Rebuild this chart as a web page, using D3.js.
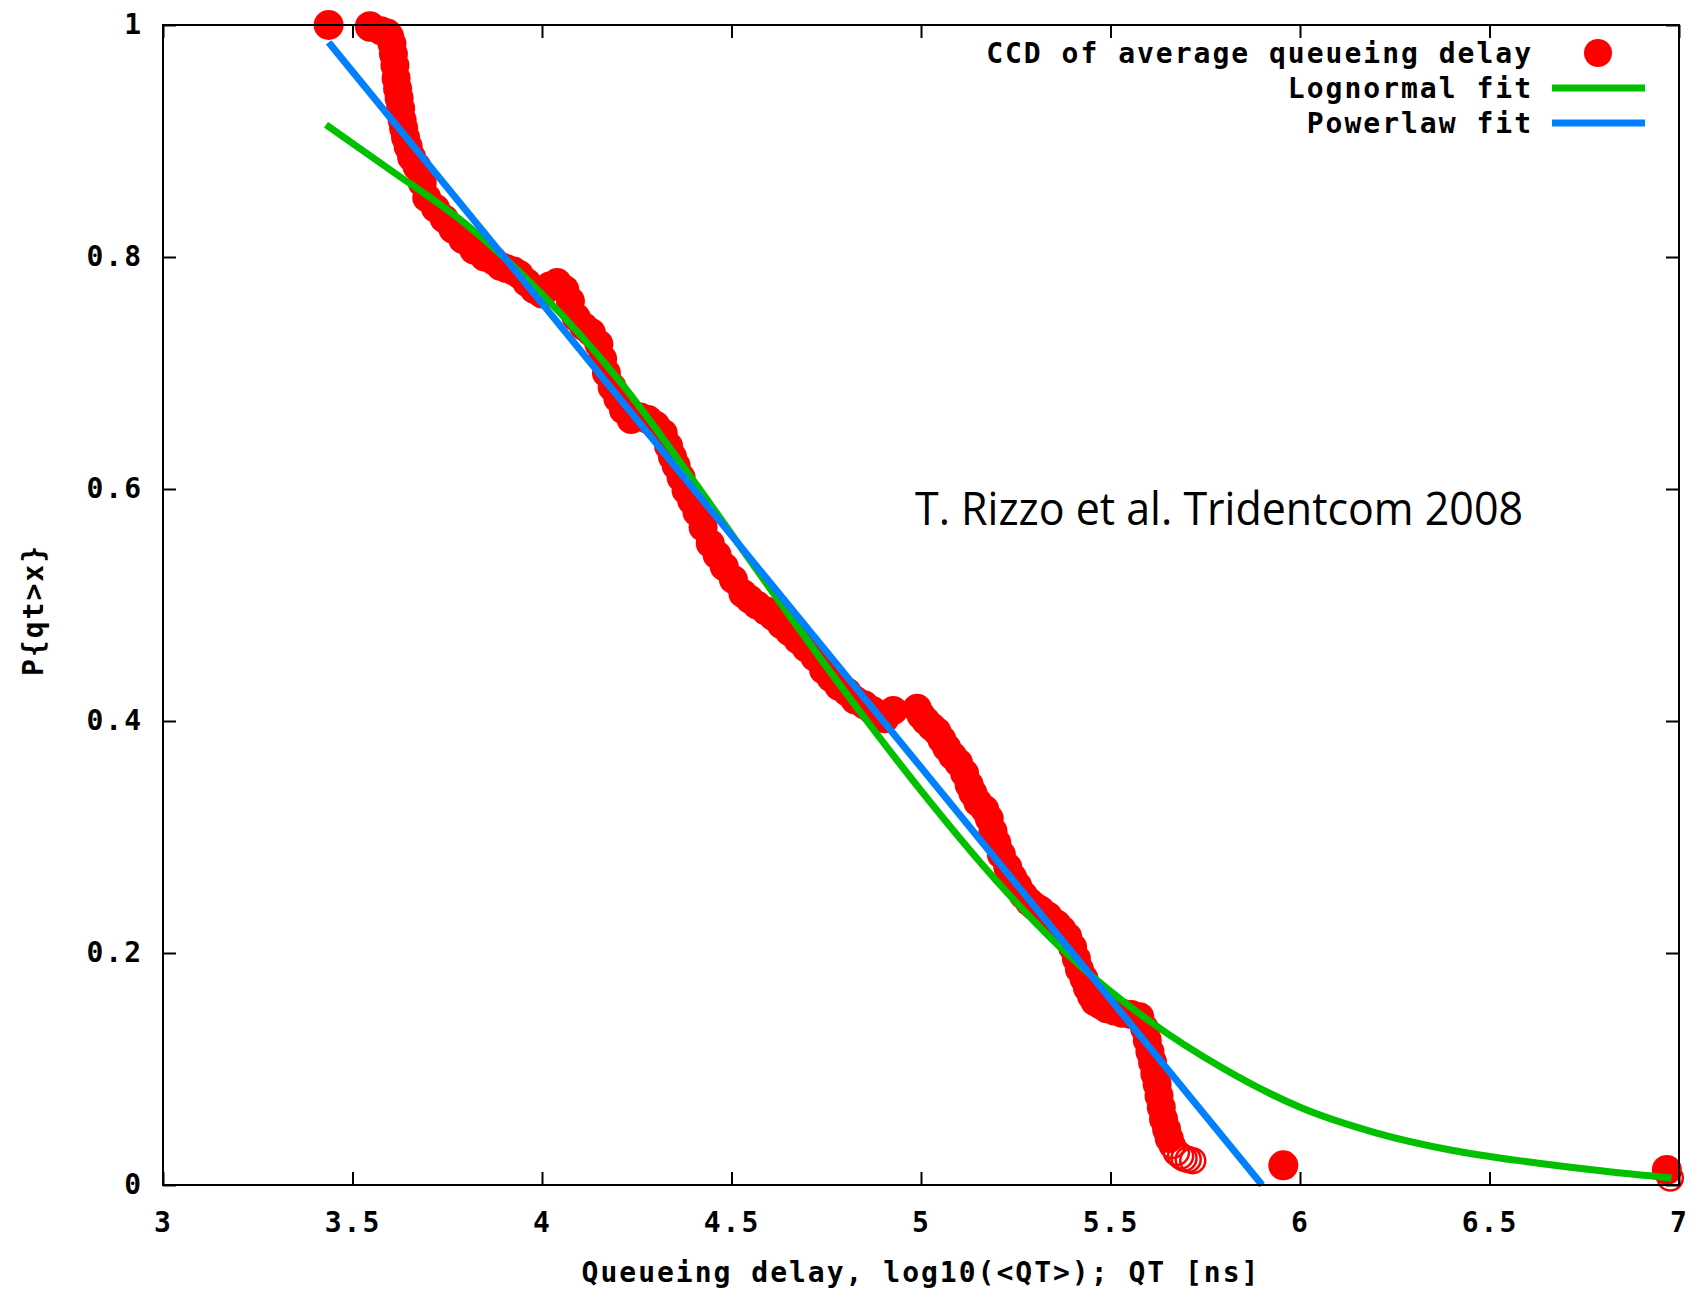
<!DOCTYPE html>
<html>
<head>
<meta charset="utf-8">
<script src="https://cdn.jsdelivr.net/npm/d3@7"></script>
<style>
  body { margin: 0; background: #fff; }
  .gp { font-family: "DejaVu Sans Mono", monospace; font-weight: bold; font-size: 28px; letter-spacing: 2px; fill: #000; }
</style>
</head>
<body>
<div id="wrapper"></div>
<script>
// CCD points (log10 of queueing delay, probability)
const ccdPoints = [
  [3.546,0.998],[3.575,0.995],[3.592,0.993],[3.598,0.990],[3.604,0.984],[3.608,0.975],[3.612,0.965],
  [3.615,0.954],[3.619,0.945],[3.623,0.937],[3.627,0.928],[3.631,0.918],[3.635,0.911],[3.640,0.903],
  [3.647,0.895],[3.656,0.886],[3.670,0.878],[3.684,0.864],[3.696,0.851],[3.719,0.842],[3.742,0.833],
  [3.765,0.824],[3.791,0.815],[3.820,0.806],[3.848,0.800],[3.871,0.797],[3.890,0.792],[3.906,0.790],
  [3.925,0.788],[3.940,0.785],[3.960,0.778],[3.980,0.772],[4.000,0.768],[4.020,0.775],[4.040,0.778],
  [4.060,0.772],[4.075,0.762],[4.090,0.748],[4.110,0.740],[4.130,0.735],[4.150,0.725],[4.160,0.712],
  [4.170,0.700],[4.185,0.688],[4.200,0.678],[4.215,0.668],[4.235,0.660],[4.260,0.662],[4.280,0.660],
  [4.300,0.655],[4.320,0.648],[4.334,0.637],
  [4.344,0.628],[4.354,0.620],[4.367,0.610],[4.380,0.599],[4.395,0.590],[4.409,0.580],[4.425,0.567],
  [4.444,0.553],[4.462,0.543],[4.481,0.533],[4.505,0.522],[4.530,0.510],[4.548,0.505],[4.567,0.500],
  [4.590,0.495],[4.610,0.490],[4.632,0.483],[4.653,0.477],[4.675,0.470],[4.697,0.463],[4.720,0.455],
  [4.743,0.444],[4.763,0.437],[4.783,0.430],[4.805,0.425],[4.826,0.418],[4.850,0.414],[4.872,0.409],
  [4.890,0.405],[4.904,0.402],[4.927,0.409],[4.990,0.411],[5.000,0.405],[5.013,0.400],[5.028,0.395],
  [5.042,0.391],[5.055,0.384],[5.068,0.377],[5.083,0.370],[5.099,0.364],[5.115,0.355],[5.127,0.345],
  [5.137,0.338],[5.150,0.330],[5.168,0.324],[5.180,0.316],[5.190,0.305],[5.200,0.295],[5.212,0.285],
  [5.229,0.274],[5.242,0.265],[5.255,0.258],[5.270,0.250],[5.286,0.244],[5.300,0.240],[5.315,0.237],
  [5.335,0.232],[5.358,0.225],[5.372,0.220],[5.387,0.214],[5.400,0.205],[5.410,0.195],[5.418,0.186],
  [5.430,0.178],[5.439,0.170],[5.450,0.163],[5.459,0.158],[5.475,0.155],[5.490,0.152],[5.510,0.150],
  [5.531,0.148],[5.555,0.147],[5.577,0.145],[5.590,0.135],[5.597,0.125],[5.604,0.115],[5.611,0.106],
  [5.617,0.096],[5.623,0.087],[5.628,0.077],[5.634,0.067],[5.640,0.057],[5.648,0.048],[5.655,0.040]
];
// the last few points at the tail show up as open circles
const ccdTail = [[5.663,0.034],[5.674,0.028],[5.685,0.025],[5.694,0.023],[5.705,0.022],[5.717,0.021],[6.977,0.006]];
// isolated points drawn as solid dots
const ccdSolid = [[3.437,1.0],[3.546,0.999],[5.956,0.017],[6.968,0.013]];

const lognormalFit = [
  [3.43,0.914],[3.6,0.875],[3.8,0.828],[4.0,0.768],[4.2,0.695],[4.4,0.607],[4.6,0.515],[4.8,0.425],
  [5.0,0.34],[5.2,0.262],[5.4,0.195],[5.6,0.142],[5.8,0.10],[6.0,0.067],[6.2,0.045],[6.4,0.03],
  [6.6,0.02],[6.8,0.012],[6.98,0.006]
];
const powerlawFit = [[3.437,0.985],[4.0,0.76],[4.5,0.56],[5.0,0.36],[5.5,0.16],[5.9,0.0]];

const xTicks = [3, 3.5, 4, 4.5, 5, 5.5, 6, 6.5, 7];
const yTicks = [0, 0.2, 0.4, 0.6, 0.8, 1];
const legendLabels = ["CCD of average queueing delay", "Lognormal fit", "Powerlaw fit"];

const width = 1708;
const height = 1302;
const margin = { top: 25, right: 29, bottom: 117, left: 163 };
const red = "#ff0000", green = "#00c000", blue = "#0080ff";

const svg = d3.select("#wrapper")
  .append("svg")
  .attr("width", width)
  .attr("height", height);

const x = d3.scaleLinear().domain([3, 7]).range([margin.left, width - margin.right]);
const y = d3.scaleLinear().domain([0, 1]).range([height - margin.bottom, margin.top]);

// points
svg.append("g")
  .selectAll("circle")
  .data(ccdPoints)
  .join("circle")
    .attr("cx", d => x(d[0]))
    .attr("cy", d => y(d[1]))
    .attr("r", 14.5)
    .attr("fill", red);

svg.append("g")
  .selectAll("circle")
  .data(ccdSolid)
  .join("circle")
    .attr("cx", d => x(d[0]))
    .attr("cy", d => y(d[1]))
    .attr("r", 15)
    .attr("fill", red);

svg.append("g")
  .selectAll("circle")
  .data(ccdTail)
  .join("circle")
    .attr("cx", d => x(d[0]))
    .attr("cy", d => y(d[1]))
    .attr("r", 12.5)
    .attr("fill", "none")
    .attr("stroke", red)
    .attr("stroke-width", 2.5);

// fits
const line = d3.line().x(d => x(d[0])).y(d => y(d[1])).curve(d3.curveMonotoneX);
svg.append("path").datum(lognormalFit)
  .attr("d", line).attr("fill", "none").attr("stroke", green).attr("stroke-width", 7);
svg.append("path").datum(powerlawFit)
  .attr("d", line).attr("fill", "none").attr("stroke", blue).attr("stroke-width", 7);

// axes, ticks inward on all four sides like gnuplot
const fmt = d => d3.format("")(d);
const xAxis = g => g
  .attr("transform", `translate(0, ${height - margin.bottom})`)
  .call(d3.axisBottom(x).tickValues(xTicks).tickSize(-13).tickPadding(27).tickFormat(fmt));
const yAxis = g => g
  .attr("transform", `translate(${margin.left}, 0)`)
  .call(d3.axisLeft(y).tickValues(yTicks).tickSize(-13).tickPadding(20).tickFormat(fmt));
const xTop = g => g
  .attr("transform", `translate(0, ${margin.top})`)
  .call(d3.axisTop(x).tickValues(xTicks).tickSize(-13).tickFormat(""));
const yRight = g => g
  .attr("transform", `translate(${width - margin.right}, 0)`)
  .call(d3.axisRight(y).tickValues(yTicks).tickSize(-13).tickFormat(""));

[xAxis, yAxis, xTop, yRight].forEach(a => {
  const g = svg.append("g").call(a);
  g.select(".domain").remove();
  g.selectAll(".tick line").attr("stroke", "#000").attr("stroke-width", 2);
  g.selectAll(".tick text").attr("class", "gp").attr("fill", "#000");
});

svg.append("rect")
  .attr("x", margin.left).attr("y", margin.top)
  .attr("width", width - margin.left - margin.right)
  .attr("height", height - margin.top - margin.bottom)
  .attr("fill", "none").attr("stroke", "#000").attr("stroke-width", 2);

// axis titles
svg.append("text").attr("class", "gp")
  .attr("x", (margin.left + width - margin.right) / 2).attr("y", 1272)
  .attr("dy", "0.35em").attr("text-anchor", "middle")
  .text("Queueing delay, log10(<QT>); QT [ns]");
svg.append("text").attr("class", "gp")
  .attr("transform", "translate(33, 610) rotate(-90)")
  .attr("dy", "0.35em").attr("text-anchor", "middle")
  .text("P{qt>x}");

// legend
const legendY = [53, 88, 123];
svg.append("g").selectAll("text")
  .data(legendLabels)
  .join("text").attr("class", "gp")
    .attr("x", 1533).attr("y", (d, i) => legendY[i])
    .attr("dy", "0.35em").attr("text-anchor", "end")
    .text(d => d);
svg.append("circle").attr("cx", 1598).attr("cy", legendY[0]).attr("r", 14).attr("fill", red);
svg.append("line").attr("x1", 1552).attr("x2", 1645).attr("y1", legendY[1]).attr("y2", legendY[1])
  .attr("stroke", green).attr("stroke-width", 7);
svg.append("line").attr("x1", 1552).attr("x2", 1645).attr("y1", legendY[2]).attr("y2", legendY[2])
  .attr("stroke", blue).attr("stroke-width", 7);

// annotation
svg.append("text")
  .attr("x", 915).attr("y", 525)
  .attr("font-family", "Open Sans, sans-serif").attr("font-size", 46)
  .attr("textLength", 608).attr("lengthAdjust", "spacingAndGlyphs")
  .attr("fill", "#000")
  .text("T. Rizzo et al. Tridentcom 2008");
</script>
</body>
</html>
